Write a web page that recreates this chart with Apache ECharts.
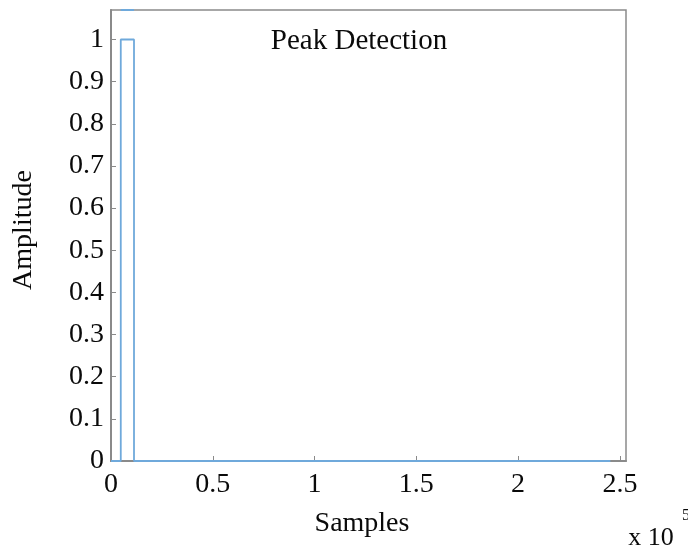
<!DOCTYPE html>
<html>
<head>
<meta charset="utf-8">
<script src="https://cdn.jsdelivr.net/npm/echarts@6/dist/echarts.min.js"></script>
<style>html,body{margin:0;padding:0;background:#fff;}#c{width:688px;height:549px;}</style>
</head>
<body>
<div id="c"></div>
<script>
// ---- data ----
const xTicks = [0, 50000, 100000, 150000, 200000, 250000];
const xTickLabels = ['0', '0.5', '1', '1.5', '2', '2.5'];
const yTicks = [0, 0.1, 0.2, 0.3, 0.4, 0.5, 0.6, 0.7, 0.8, 0.9, 1];
const yTickLabels = ['0', '0.1', '0.2', '0.3', '0.4', '0.5', '0.6', '0.7', '0.8', '0.9', '1'];
const sampleIdx = [0, 4800, 4800, 11300, 11300, 245300];
const amplitude = [0, 0, 1, 1, 0, 0];
const clipSampleIdx = [4800, 11300];
const clipAmplitude = [1.07, 1.07];
const titleText = 'Peak Detection';
const xName = 'Samples';
const yName = 'Amplitude';

const FONT = 'Liberation Serif';
const chart = echarts.init(document.getElementById('c'), null, {renderer: 'canvas'});

function labelFor(ticks, labels) {
  return function (v) {
    for (let i = 0; i < ticks.length; i++) {
      if (Math.abs(ticks[i] - v) < 1e-6 * Math.max(1, Math.abs(ticks[i]))) return labels[i];
    }
    return '';
  };
}

chart.setOption({
  animation: false,
  backgroundColor: '#fff',
  textStyle: {fontFamily: FONT},
  grid: {left: 111, right: 62, top: 10, bottom: 88, show: true, borderColor: '#8a8a8a', borderWidth: 1.5, containLabel: false},
  xAxis: {
    type: 'value', min: 0, max: 253000,
    axisLine: {show: true, onZero: false, lineStyle: {color: '#8a8a8a', width: 2}},
    axisTick: {show: true, inside: true, length: 5, customValues: xTicks, lineStyle: {color: '#8a8a8a'}},
    axisLabel: {show: true, customValues: xTicks, formatter: labelFor(xTicks, xTickLabels), margin: 10,
      fontFamily: FONT, fontSize: 28, color: '#0a0a0a'},
    splitLine: {show: false}
  },
  yAxis: {
    type: 'value', min: 0, max: 1.07,
    axisLine: {show: true, lineStyle: {color: '#8a8a8a', width: 2}},
    axisTick: {show: true, inside: true, length: 5, customValues: yTicks, lineStyle: {color: '#8a8a8a'}},
    axisLabel: {show: true, customValues: yTicks, formatter: labelFor(yTicks, yTickLabels), margin: 7,
      fontFamily: FONT, fontSize: 28, color: '#0a0a0a'},
    splitLine: {show: false}
  },
  series: [
    {
      type: 'line', showSymbol: false, clip: true, z: 5,
      data: sampleIdx.map((x, i) => [x, amplitude[i]]),
      lineStyle: {color: '#6fa9db', width: 1.8}
    },
    {
      type: 'line', showSymbol: false, clip: false, z: 10,
      data: clipSampleIdx.map((x, i) => [x, clipAmplitude[i]]),
      lineStyle: {color: '#6fa9db', width: 2}
    }
  ],
  graphic: [
    {type: 'text', x: 359, y: 41, style: {text: titleText, fontFamily: FONT, fontSize: 29, fill: '#0a0a0a', align: 'center', verticalAlign: 'middle'}},
    {type: 'text', x: 362, y: 524, style: {text: xName, fontFamily: FONT, fontSize: 28, fill: '#0a0a0a', align: 'center', verticalAlign: 'middle'}},
    {type: 'text', x: 24, y: 230, rotation: Math.PI / 2, style: {text: yName, fontFamily: FONT, fontSize: 28, fill: '#0a0a0a', align: 'center', verticalAlign: 'middle'}},
    {type: 'text', x: 651, y: 538, style: {text: 'x 10', fontFamily: FONT, fontSize: 26, fill: '#0a0a0a', align: 'center', verticalAlign: 'middle'}},
    {type: 'text', x: 682, y: 516, style: {text: '5', fontFamily: FONT, fontSize: 16, fill: '#0a0a0a', align: 'left', verticalAlign: 'middle'}}
  ]
});
</script>
</body>
</html>
